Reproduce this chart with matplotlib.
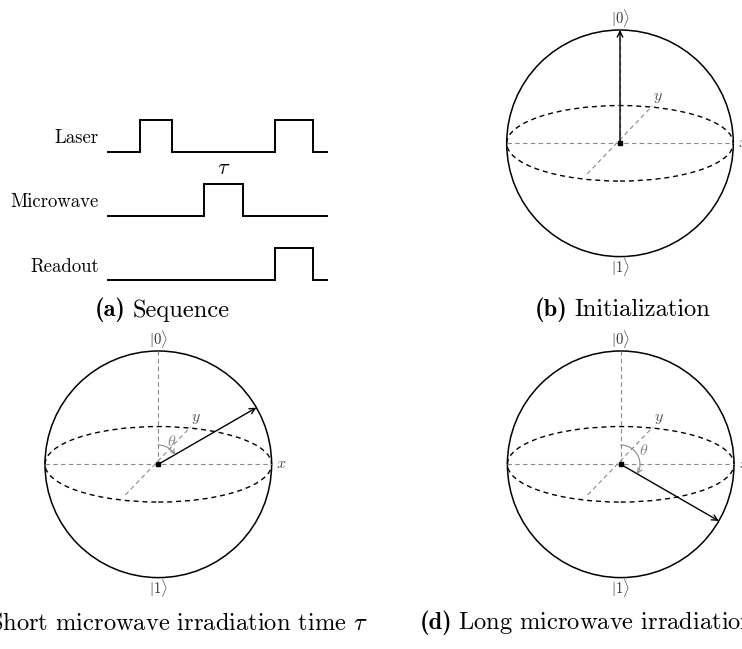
import numpy as np
import matplotlib
matplotlib.use('Agg')
import matplotlib.pyplot as plt
from matplotlib.patches import Circle, Ellipse

plt.rcParams['mathtext.fontset'] = 'cm'
plt.rcParams['font.family'] = 'serif'
plt.rcParams['font.serif'] = ['cmr10', 'DejaVu Serif']
plt.rcParams['axes.formatter.use_mathtext'] = True

W, H = 742, 649

# pulse sequence (time in arbitrary units)
channels = ['Laser', 'Microwave', 'Readout']
pulses = [[(1.0, 2.0), (5.2, 6.4)],
          [(3.0, 4.2)],
          [(5.2, 6.4)]]
t_end = 6.83
tau_channel = 1

# polar angle of the state vector for panels b, c, d (degrees)
panel_names = ['b', 'c', 'd']
thetas = [0, 60, 120]

cap_tags = ['(a)', '(b)', '(c)', '(d)']
cap_texts = ['Sequence', 'Initialization',
             r'Short microwave irradiation time $\tau$',
             r'Long microwave irradiation time $\tau$']

fig = plt.figure(figsize=(W / 100, H / 100), dpi=100)

# full-figure axes in pixel units, used for the captions
bg = fig.add_axes([0, 0, 1, 1])
bg.set_xlim(0, W)
bg.set_ylim(H, 0)
bg.axis('off')


def px_axes(left, top, width, height):
    return fig.add_axes([left / W, 1 - (top + height) / H, width / W, height / H])


# ---- (a) sequence ----
x0, y0, unit = 108.3, 151.7, 32.0
ax = px_axes(0, 90, 360, 240)
ax.set_xlim(-x0 / unit, (360 - x0) / unit)
ax.set_ylim((y0 - 330) / unit, (y0 - 90) / unit)
ax.axis('off')
for i, name in enumerate(channels):
    base = -2.01 * i
    t = [0.0]
    v = [0.0]
    for on, off in pulses[i]:
        t += [on, on, off, off]
        v += [0, 1, 1, 0]
    t.append(t_end)
    v.append(0)
    ax.plot(t, base + np.array(v), color='k', lw=1.4, solid_joinstyle='miter')
    ax.text(-0.29, base + 0.43, name, ha='right', va='center', fontsize=13.5)
    if i == tau_channel:
        on, off = pulses[i][0]
        ax.text((on + off) / 2, base + 1.2, r'$\tau$', ha='center',
                va='bottom', fontsize=16)

# ---- Bloch spheres ----
centers = [(620.0, 143.3), (158.3, 464.3), (620.7, 464.3)]
R = 113.3
gray = '#8a8a8a'
dash = (0, (4, 3))

for (cx, cy), th in zip(centers, thetas):
    ax = px_axes(cx - 1.4 * R, cy - 1.4 * R, 2.8 * R, 2.8 * R)
    ax.set_xlim(-1.4, 1.4)
    ax.set_ylim(-1.4, 1.4)
    ax.axis('off')
    ax.add_patch(Circle((0, 0), 1, fill=False, ec='k', lw=1.1))
    ax.add_patch(Ellipse((0, 0), 2, 2 / 3, fill=False, ec='k', lw=1.0,
                         ls=(0, (3.6, 2.8))))
    ax.plot([-1, 1], [0, 0], color=gray, lw=0.8, ls=dash)
    ax.plot([-0.29, 0.285], [-0.27, 0.33], color=gray, lw=0.8, ls=dash)
    ax.plot([0, 0], [0, 1], color=gray, lw=0.8, ls=dash)
    ax.text(0.335, 0.40, '$y$', color='#555555', ha='center', va='center',
            fontsize=11.5)
    ax.text(1.087, 0, '$x$', color='#555555', ha='center', va='center',
            fontsize=11.5)
    ax.text(0, 1.105, r'$|0\rangle$', color='#333333', ha='center',
            va='center', fontsize=10.5)
    ax.text(0, -1.09, r'$|1\rangle$', color='#333333', ha='center',
            va='center', fontsize=10.5)
    rad = np.radians(th)
    tip = (np.sin(rad), np.cos(rad))
    ax.annotate('', xy=tip, xytext=(0, 0),
                arrowprops=dict(arrowstyle='->', color='k', lw=1.0,
                                shrinkA=0, shrinkB=0, mutation_scale=10))
    if th > 0:
        ar = 0.17
        phi = np.linspace(np.pi / 2, np.pi / 2 - rad, 60)
        ax.plot(ar * np.cos(phi[:-3]), ar * np.sin(phi[:-3]), color=gray, lw=0.8)
        ax.annotate('', xy=(ar * np.cos(phi[-1]), ar * np.sin(phi[-1])),
                    xytext=(ar * np.cos(phi[-4]), ar * np.sin(phi[-4])),
                    arrowprops=dict(arrowstyle='->', color=gray, lw=0.8,
                                    shrinkA=0, shrinkB=0, mutation_scale=8))
        mid = np.pi / 2 - rad / 2
        ax.text(0.235 * np.cos(mid), 0.235 * np.sin(mid), r'$\theta$',
                color=gray, ha='center', va='center', fontsize=11.5)
    ax.plot([0], [0], 's', color='k', ms=2.5)

# ---- captions ----
fs = 17.6
gap = 4.5
# (a), (b), (d): bold tag first, text after it
for k, (xl, yb) in zip([0, 1, 3], [(95, 316.5), (535, 316.5), (419.3, 629.3)]):
    tag = bg.text(xl, yb, cap_tags[k], family='cmb10', fontsize=fs,
                  ha='left', va='baseline')
    bg.annotate(cap_texts[k], xy=(1, yb), xycoords=(tag, 'data'),
                xytext=(gap, 0), textcoords='offset points',
                ha='left', va='baseline', fontsize=fs)
# (c): right end fixed, tag before it
body = bg.text(368, 629.3, cap_texts[2], fontsize=fs, ha='right', va='baseline')
bg.annotate(cap_tags[2], xy=(0, 629.3), xycoords=(body, 'data'),
            xytext=(-gap, 0), textcoords='offset points', ha='right',
            va='baseline', family='cmb10', fontsize=fs)

fig.savefig('out.png', dpi=100)
